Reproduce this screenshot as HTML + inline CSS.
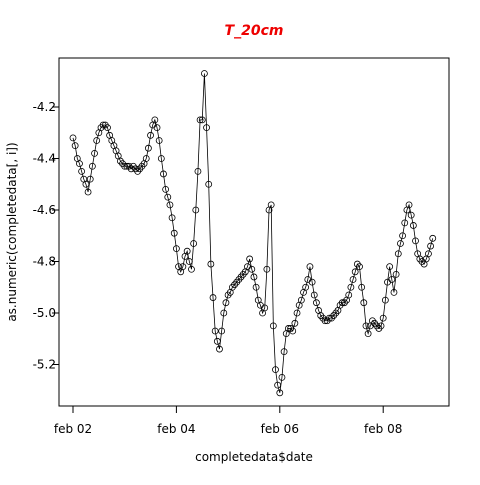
<!DOCTYPE html>
<html><head><meta charset="utf-8"><style>
body{margin:0;background:#fff;}
svg text{font-family:"DejaVu Sans","Liberation Sans",sans-serif;}
</style></head><body>
<svg id="chart" width="480" height="480" viewBox="0 0 480 480">
<rect width="480" height="480" fill="#fff"/>
<text x="254" y="35" text-anchor="middle" fill="#e00" font-weight="bold" font-style="italic" font-size="14">T_20cm</text>
<rect x="59" y="58" width="390" height="348" fill="none" stroke="#000" stroke-width="1"/>
<g id="yaxis"></g>
<g id="xaxis"></g>
<g id="lines"></g>
<g id="pts"></g>
<text x="254" y="461" text-anchor="middle" font-size="12">completedata$date</text>
<text transform="translate(16,232) rotate(-90)" text-anchor="middle" font-size="12">as.numeric(completedata[, i])</text>
</svg>
<script>
const yTicks=[-4.2,-4.4,-4.6,-4.8,-5.0,-5.2];
const yTickLabels=["-4.2","-4.4","-4.6","-4.8","-5.0","-5.2"];
const xTicksDays=[0,2,4,6];
const xTickLabels=["feb 02","feb 04","feb 06","feb 08"];
const hours=[];for(let i=0;i<168;i++)hours.push(i);
const values=[-4.32,-4.35,-4.40,-4.42,-4.45,-4.48,-4.50,-4.53,-4.48,-4.43,-4.38,-4.33,-4.30,-4.28,-4.27,-4.27,-4.28,-4.31,-4.33,-4.35,-4.37,-4.39,-4.41,-4.42,-4.43,-4.43,-4.43,-4.44,-4.43,-4.44,-4.45,-4.44,-4.43,-4.42,-4.40,-4.36,-4.31,-4.27,-4.25,-4.28,-4.33,-4.40,-4.46,-4.52,-4.55,-4.58,-4.63,-4.69,-4.75,-4.82,-4.84,-4.82,-4.78,-4.76,-4.80,-4.83,-4.73,-4.60,-4.45,-4.25,-4.25,-4.07,-4.28,-4.50,-4.81,-4.94,-5.07,-5.11,-5.14,-5.07,-5.00,-4.96,-4.93,-4.92,-4.90,-4.89,-4.88,-4.87,-4.86,-4.85,-4.84,-4.82,-4.79,-4.83,-4.86,-4.90,-4.95,-4.97,-5.00,-4.98,-4.83,-4.60,-4.58,-5.05,-5.22,-5.28,-5.31,-5.25,-5.15,-5.08,-5.06,-5.06,-5.07,-5.04,-5.00,-4.97,-4.95,-4.92,-4.90,-4.87,-4.82,-4.88,-4.93,-4.96,-4.99,-5.01,-5.02,-5.03,-5.03,-5.02,-5.02,-5.01,-5.00,-4.99,-4.97,-4.96,-4.96,-4.95,-4.93,-4.90,-4.87,-4.84,-4.81,-4.82,-4.90,-4.96,-5.05,-5.08,-5.05,-5.03,-5.04,-5.05,-5.06,-5.05,-5.02,-4.95,-4.88,-4.82,-4.87,-4.92,-4.85,-4.77,-4.73,-4.70,-4.65,-4.60,-4.58,-4.62,-4.66,-4.72,-4.77,-4.79,-4.80,-4.81,-4.79,-4.77,-4.74,-4.71];
const NS="http://www.w3.org/2000/svg";
function xs(h){return 73+h*51.7/24;}
function ys(v){return 107+(-4.2-v)*257.5;}
const ya=document.getElementById('yaxis');
yTicks.forEach((v,i)=>{
  const y=ys(v);
  const l=document.createElementNS(NS,'line');
  l.setAttribute('x1',52);l.setAttribute('x2',59);l.setAttribute('y1',y);l.setAttribute('y2',y);l.setAttribute('stroke','#000');
  
  
  ya.appendChild(l);
  const t=document.createElementNS(NS,'text');
  t.setAttribute('x',56);t.setAttribute('y',y+4);t.setAttribute('text-anchor','end');t.setAttribute('font-size','12');
  t.textContent=yTickLabels[i];
  
  
  ya.appendChild(t);
});
const xa=document.getElementById('xaxis');
xTicksDays.forEach((d,i)=>{
  const x=xs(d*24);
  const l=document.createElementNS(NS,'line');
  l.setAttribute('x1',x);l.setAttribute('x2',x);l.setAttribute('y1',406);l.setAttribute('y2',413);l.setAttribute('stroke','#000');
  
  
  xa.appendChild(l);
  const t=document.createElementNS(NS,'text');
  t.setAttribute('x',x);t.setAttribute('y',433);t.setAttribute('text-anchor','middle');t.setAttribute('font-size','12');
  t.textContent=xTickLabels[i];
  
  
  xa.appendChild(t);
});
const lg=document.getElementById('lines');
const pl=document.createElementNS(NS,'polyline');
pl.setAttribute('points',values.map((v,i)=>xs(hours[i])+','+ys(v)).join(' '));
pl.setAttribute('fill','none');pl.setAttribute('stroke','#000');pl.setAttribute('stroke-width','0.8');


lg.appendChild(pl);
const pg=document.getElementById('pts');
values.forEach((v,i)=>{
  const c=document.createElementNS(NS,'circle');
  c.setAttribute('cx',xs(hours[i]));c.setAttribute('cy',ys(v));c.setAttribute('r',3);
  c.setAttribute('fill','none');c.setAttribute('stroke','#000');c.setAttribute('stroke-width','0.8');
  
  
  pg.appendChild(c);
});
</script>
</body></html>
